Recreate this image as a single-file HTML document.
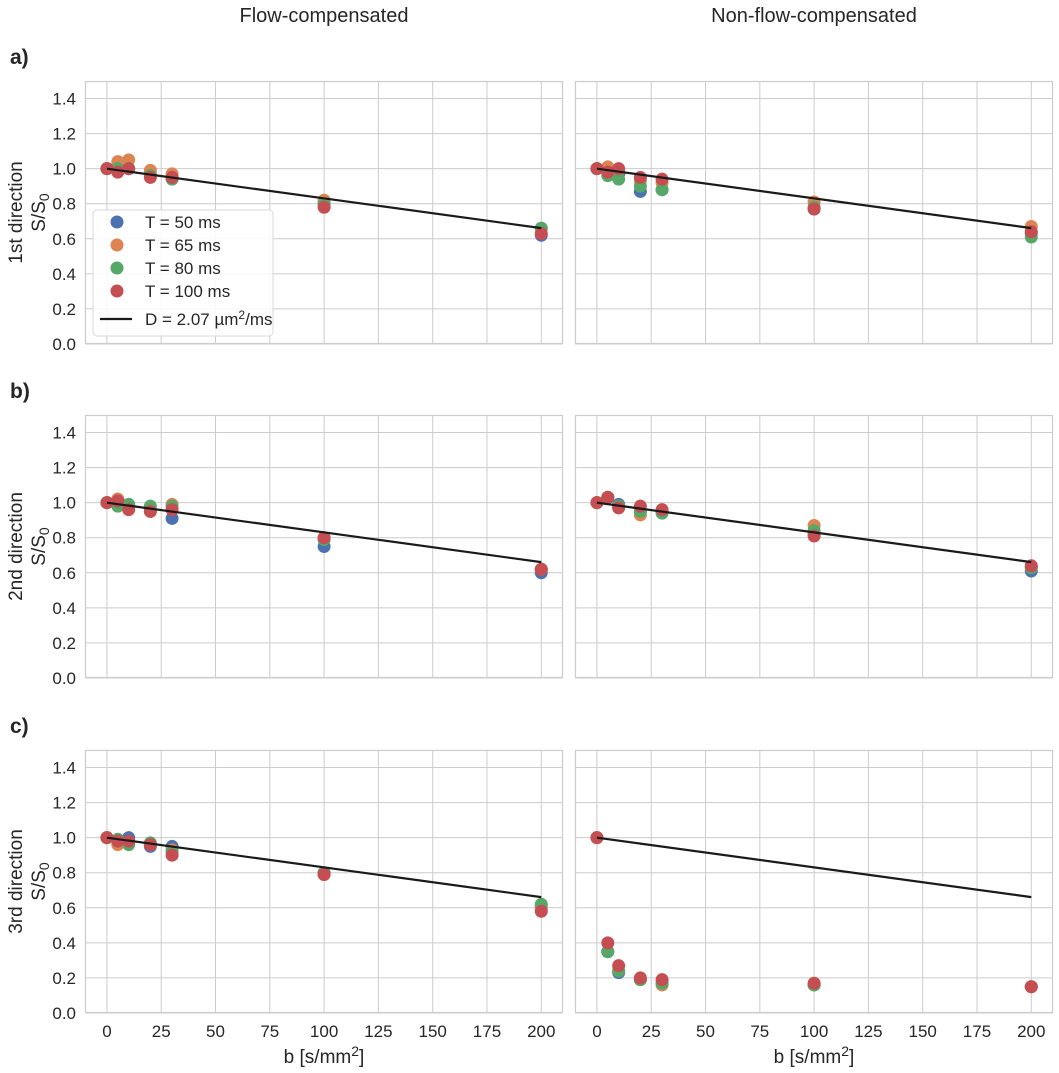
<!DOCTYPE html>
<html><head><meta charset="utf-8">
<style>
html,body{margin:0;padding:0;background:#fff;}
svg{display:block;font-family:"Liberation Sans",Arial,sans-serif;}
</style></head>
<body>
<svg id="chart" width="1059" height="1073" viewBox="0 0 1059 1073"></svg>
<script>
const bValues = [0, 5, 10, 20, 30, 100, 200];
const seriesLabels = ["T = 50 ms", "T = 65 ms", "T = 80 ms", "T = 100 ms"];
const seriesColors = ["#4c72b0", "#dd8452", "#55a868", "#c44e52"];
const diffusionD = 2.07;
const xTicks = [0, 25, 50, 75, 100, 125, 150, 175, 200];
const yTicks = [0.0, 0.2, 0.4, 0.6, 0.8, 1.0, 1.2, 1.4];
const rowLabels = ["1st direction", "2nd direction", "3rd direction"];
const panelLetters = ["a)", "b)", "c)"];
const colTitles = ["Flow-compensated", "Non-flow-compensated"];
const r1fc = [[1,1.02,1.0,0.97,0.95,0.80,0.62],[1,1.04,1.05,0.99,0.97,0.82,0.66],[1,1.0,1.0,0.96,0.94,0.80,0.66],[1,0.98,1.0,0.95,0.95,0.78,0.63]];
const r1nfc = [[1,0.98,0.97,0.87,0.88,0.77,0.63],[1,1.01,0.99,0.93,0.92,0.81,0.67],[1,0.96,0.94,0.90,0.88,0.78,0.61],[1,0.98,1.0,0.95,0.94,0.77,0.64]];
const r2fc = [[1,1.02,0.99,0.96,0.91,0.75,0.60],[1,1.02,0.97,0.95,0.99,0.80,0.62],[1,0.98,0.99,0.98,0.98,0.79,0.62],[1,1.01,0.96,0.95,0.96,0.80,0.62]];
const r2nfc = [[1,1.03,0.99,0.95,0.95,0.82,0.61],[1,1.03,0.98,0.93,0.95,0.87,0.63],[1,1.03,0.98,0.95,0.94,0.84,0.63],[1,1.03,0.97,0.98,0.96,0.81,0.64]];
const r3fc = [[1,0.99,1.0,0.95,0.95,0.80,0.61],[1,0.96,0.97,0.96,0.93,0.79,0.60],[1,0.99,0.96,0.97,0.92,0.80,0.62],[1,0.98,0.98,0.96,0.90,0.79,0.58]];
const r3nfc = [[1,0.35,0.23,0.19,0.17,0.16,0.15],[1,0.35,0.24,0.19,0.16,0.16,0.15],[1,0.35,0.24,0.19,0.17,0.16,0.15],[1,0.40,0.27,0.20,0.19,0.17,0.15]];
const panelData = [[r1fc, r1nfc], [r2fc, r2nfc], [r3fc, r3nfc]];

const NS = "http://www.w3.org/2000/svg";
const svg = document.getElementById("chart");
function mk(tag, attrs, parent, text) {
  const e = document.createElementNS(NS, tag);
  for (const k in attrs) e.setAttribute(k, attrs[k]);
  if (text !== undefined) e.textContent = text;
  (parent || svg).appendChild(e);
  return e;
}
const colX = [85, 575], panelW = 478;
const rowY = [81, 415, 750], panelH = 263;
const xMin = -10.1, xMax = 210, yMin = 0, yMax = 1.5;

colTitles.forEach((t, c) => {
  const el = mk("text", {x: colX[c] + panelW / 2, y: 22, "text-anchor": "middle", "font-size": 20, fill: "#262626"}, svg, t);
  
  
});

for (let r = 0; r < 3; r++) {
  const lt = mk("text", {x: 10, y: rowY[r] - 17, "font-size": 21, "font-weight": "bold", fill: "#262626"}, svg, panelLetters[r]);
  
  
  const yl = mk("text", {transform: `translate(22,${rowY[r] + panelH / 2}) rotate(-90)`, "text-anchor": "middle", "font-size": 19, fill: "#262626"}, svg);
  
  
  mk("tspan", {x: 0, dy: 0}, yl, rowLabels[r]);
  mk("tspan", {x: 0, dy: 23}, yl, "S/S");
  mk("tspan", {"font-size": 14, dy: 4}, yl, "0");

  for (let c = 0; c < 2; c++) {
    const x0 = colX[c], y0 = rowY[r];
    const sx = v => x0 + (v - xMin) / (xMax - xMin) * panelW;
    const sy = v => y0 + panelH - (v - yMin) / (yMax - yMin) * panelH;
    const g = mk("g", {});
    
    
    xTicks.forEach(t => {
      const l = mk("line", {x1: sx(t), x2: sx(t), y1: y0, y2: y0 + panelH, stroke: "#cccccc", "stroke-width": 1}, g);
      
      
      if (r === 2) {
        const tl = mk("text", {x: sx(t), y: y0 + panelH + 24, "text-anchor": "middle", "font-size": 17, fill: "#262626"}, g, String(t));
        
        
      }
    });
    yTicks.forEach(t => {
      const l = mk("line", {x1: x0, x2: x0 + panelW, y1: sy(t), y2: sy(t), stroke: "#cccccc", "stroke-width": 1}, g);
      
      
      if (c === 0) {
        const tl = mk("text", {x: x0 - 9, y: sy(t) + 6, "text-anchor": "end", "font-size": 17, fill: "#262626"}, g, t.toFixed(1));
        
        
      }
    });
    const fr = mk("rect", {x: x0 + 0.5, y: y0 + 0.5, width: panelW - 1, height: panelH - 1, fill: "none", stroke: "#cccccc", "stroke-width": 1.2}, g);
    
    
    if (r === 2) {
      const xl = mk("text", {x: x0 + panelW / 2, y: y0 + panelH + 50, "text-anchor": "middle", "font-size": 19, fill: "#262626"}, g);
      
      
      mk("tspan", {}, xl, "b [s/mm");
      mk("tspan", {dy: -7, "font-size": 14}, xl, "2");
      mk("tspan", {dy: 7}, xl, "]");
    }
    const data = panelData[r][c];
    data.forEach((series, s) => {
      series.forEach((v, i) => {
        const p = mk("circle", {cx: sx(bValues[i]), cy: sy(v), r: 6.5, fill: seriesColors[s]}, g);
        
        
      });
    });
    const b0 = bValues[0], b1 = bValues[bValues.length - 1];
    const fit = mk("line", {x1: sx(b0), y1: sy(Math.exp(-diffusionD * b0 / 1000)), x2: sx(b1), y2: sy(Math.exp(-diffusionD * b1 / 1000)), stroke: "#1a1a1a", "stroke-width": 2.2}, g);
    
    
  }
}

const lg = mk("g", {});


mk("rect", {x: 93, y: 210, width: 180, height: 126, rx: 4, fill: "#ffffff", "fill-opacity": 0.85, stroke: "#d8d8d8"}, lg);
seriesLabels.forEach((lab, i) => {
  const y = 222 + i * 23;
  const e = mk("circle", {cx: 117, cy: y, r: 6.5, fill: seriesColors[i]}, lg);
  
  
  const t = mk("text", {x: 145, y: y + 6, "font-size": 17, fill: "#262626"}, lg, lab);
  
  
});
mk("line", {x1: 100, x2: 132, y1: 319, y2: 319, stroke: "#1a1a1a", "stroke-width": 2.2}, lg);
const dl = mk("text", {x: 145, y: 325, "font-size": 17, fill: "#262626"}, lg);


mk("tspan", {}, dl, "D = " + diffusionD.toFixed(2) + " µm");
mk("tspan", {dy: -6, "font-size": 12}, dl, "2");
mk("tspan", {dy: 6}, dl, "/ms");
</script>
</body></html>
